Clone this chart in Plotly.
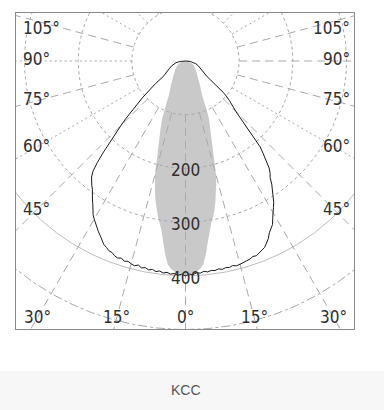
import numpy as np
import plotly.graph_objects as go

# ---------------- data (angle gamma in degrees, intensity in cd/klm) ----------------
# C180 half-plane (drawn to the left)
left_gamma = [90, 85, 80, 75, 70, 65, 60, 57, 55, 53, 51, 49.5, 48, 47, 46, 45, 44, 43, 42, 41,
              40, 39, 38, 37, 36, 35, 34, 33, 32, 31, 30, 29, 28, 27, 26, 25, 24, 23, 22, 21,
              20, 19, 18, 17, 16, 15, 14, 13, 12, 11, 10, 9, 8, 7, 6, 5, 4, 3, 2, 1, 0]
left_cd = [0, 10, 18, 23, 28, 33, 40, 45, 51, 70, 92, 106, 122, 140, 155, 170, 188, 205, 228, 250,
           268, 278, 285, 290, 295, 303, 310, 317, 326, 334, 340, 346, 352, 357, 362, 368, 374, 377, 381, 382,
           386, 388, 386, 390, 388, 391, 393, 390, 394, 392, 395, 393, 396, 394, 397, 395, 398, 396, 399, 397, 400]

# C0 half-plane (drawn to the right)
right_gamma = list(range(0, 49)) + [50, 52, 53, 54, 57, 60, 65, 70, 75, 80, 85, 90]
right_cd = [400, 397, 398, 395, 396, 393, 395, 393, 394, 392,
            394, 392, 393, 391, 393, 392, 390, 389, 388, 385,
            386, 383, 380, 377, 371, 365, 356, 350, 345, 335,
            327, 318, 310, 300, 290, 280, 268, 262, 253, 240,
            225, 212, 180, 160, 145, 132, 124, 117, 110,
            95, 72, 58, 50, 43, 38, 31, 25, 20, 15, 9, 0]

# C90/C270 plane (grey filled, symmetric)
beam_gamma = [0, 2, 3, 4, 5, 6, 7, 8, 9, 10, 11, 12, 13, 14, 15, 16, 17, 18, 19, 20,
              22, 23, 24, 26, 30, 35, 40, 50, 60, 70, 80, 90]
beam_cd = [398, 396, 393, 388, 380, 362, 340, 320, 306, 295, 283, 268, 252, 236, 220, 195, 175, 158, 147, 137,
           117, 105, 88, 70, 55, 43, 35, 25, 18, 12, 6, 0]

ring_values = [100, 200, 300, 400, 500]
ring_labels = ["200", "300", "400"]
ring_label_values = [200, 300, 400]
side_ticks = [105, 90, 75, 60, 45]
bottom_ticks = [-30, -15, 0, 15, 30]
radial_angles = list(range(-180, 181, 15))
footer_text = "KCC"


def to_xy(gamma_deg, cd, sign):
    g = np.radians(np.asarray(gamma_deg, dtype=float))
    r = np.asarray(cd, dtype=float)
    return sign * r * np.sin(g), -r * np.cos(g)


fig = go.Figure()

# grey beam (C90 plane)
bl_x, bl_y = to_xy(beam_gamma[::-1], beam_cd[::-1], -1)
br_x, br_y = to_xy(beam_gamma, beam_cd, 1)
fig.add_trace(go.Scatter(x=np.concatenate([bl_x, br_x]), y=np.concatenate([bl_y, br_y]),
                         mode="lines", fill="toself", fillcolor="#c9c9c9",
                         line=dict(width=0, color="#c9c9c9"), hoverinfo="skip"))

# grid rings
grid_col = "#a9a9a9"
ring_style = {100: ("dot", grid_col), 200: ("dot", grid_col), 300: ("dot", grid_col),
              400: ("solid", "#bdbdbd"), 500: ("dashdot", grid_col)}
th = np.linspace(0, 2 * np.pi, 721)
for rv in ring_values:
    dash, col = ring_style[rv]
    fig.add_trace(go.Scatter(x=rv * np.sin(th), y=-rv * np.cos(th), mode="lines",
                             line=dict(color=col, width=1, dash=dash), hoverinfo="skip"))

# radial lines
dotted_angles = {-60, 60, -120, 120, -90, -135, 135, -150, 150}
for style in ("dash", "dot"):
    xs, ys = [], []
    for a in radial_angles:
        is_dot = a in dotted_angles
        if (style == "dot") != is_dot:
            continue
        g = np.radians(a)
        for r0, r1 in [(100, 900)]:
            xs += [r0 * np.sin(g), r1 * np.sin(g), None]
            ys += [-r0 * np.cos(g), -r1 * np.cos(g), None]
    fig.add_trace(go.Scatter(x=xs, y=ys, mode="lines",
                             line=dict(color=grid_col, width=1,
                                       dash="8px,5px" if style == "dash" else "2px,3px"),
                             hoverinfo="skip"))

# black curve (C0/C180 plane)
lx, ly = to_xy(left_gamma, left_cd, -1)
rx, ry = to_xy(right_gamma, right_cd, 1)
fig.add_trace(go.Scatter(x=np.concatenate([lx, rx]), y=np.concatenate([ly, ry]), mode="lines",
                         line=dict(color="#1a1a1a", width=1), hoverinfo="skip"))

# ---------------- layout ----------------
PX = 0.537           # pixels per cd unit
CX, CY = 185.5, 61   # pole position in pixels
L, T, W, H = 16, 13, 338, 316
x_range = [(L - CX) / PX, (L + W - CX) / PX]
y_range = [-(T + H - CY) / PX, (CY - T) / PX]

font = dict(family="DejaVu Sans Condensed, DejaVu Sans, sans-serif", size=17, color="#2e2e2e")
ann = []
for v, txt in zip(ring_label_values, ring_labels):
    ann.append(dict(x=0, y=-v, text=txt, showarrow=False, xanchor="center", yanchor="middle",
                    yshift=-2, font=font))
X0 = 150 / PX
for a in side_ticks:
    yv = -X0 / np.tan(np.radians(a)) if a != 90 else 0.0
    yv = min(yv, 58)
    ann.append(dict(x=(21 - CX) / PX, y=yv, text=f"{a}°", showarrow=False, xanchor="left",
                    yanchor="middle", yshift=2, font=font))
    ann.append(dict(x=(352 - CX) / PX, y=yv, text=f"{a}°", showarrow=False, xanchor="right",
                    yanchor="middle", yshift=2, font=font))
YB = (317 - CY) / PX
for a in bottom_ticks:
    ann.append(dict(x=YB * np.tan(np.radians(a)), y=-YB, text=f"{abs(a)}°", showarrow=False,
                    xanchor="center", yanchor="middle", font=font))
ann.append(dict(xref="paper", yref="paper", x=(186 - L) / W, y=-(390 - T - H) / H, text=footer_text,
                showarrow=False, xanchor="center", yanchor="middle",
                font=dict(family="Liberation Sans, Arial, sans-serif", size=14, color="#555555")))

fig.update_layout(
    width=384, height=410,
    margin=dict(l=L, r=384 - L - W, t=T, b=410 - T - H),
    paper_bgcolor="white", plot_bgcolor="white",
    showlegend=False,
    xaxis=dict(range=x_range, showgrid=False, zeroline=False, showticklabels=False, ticks="",
               showline=True, mirror=True, linecolor="#8a8a8a", linewidth=1, fixedrange=True),
    yaxis=dict(range=y_range, showgrid=False, zeroline=False, showticklabels=False, ticks="",
               showline=True, mirror=True, linecolor="#8a8a8a", linewidth=1, fixedrange=True),
    annotations=ann,
    shapes=[dict(type="rect", xref="paper", yref="paper", layer="below",
                 x0=-L / W, x1=(384 - L) / W, y0=-(410 - T - H) / H, y1=-(371 - T - H) / H,
                 fillcolor="#f7f7f7", line=dict(width=0))],
)

fig.write_html("out.html", config={"displayModeBar": False},
               post_script="document.body.style.margin='0';document.body.style.padding='0';")
